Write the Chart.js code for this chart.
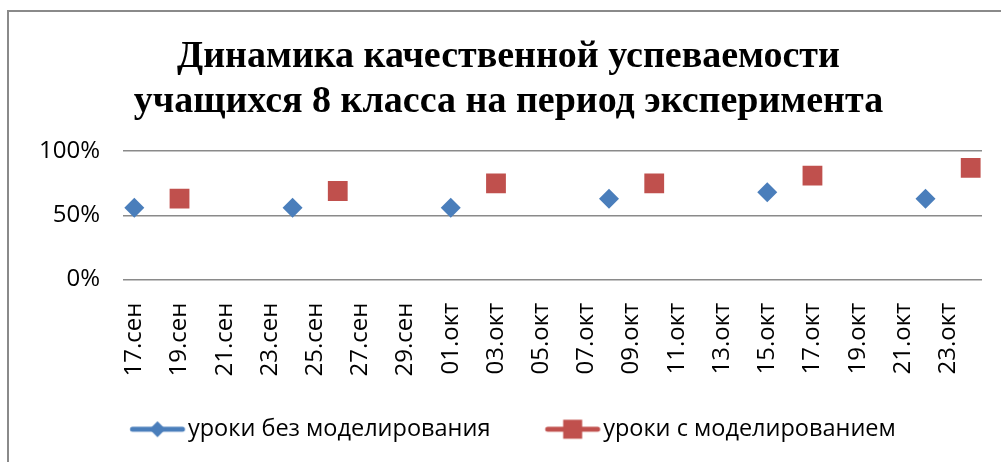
<!DOCTYPE html>
<html lang="ru">
<head>
<meta charset="UTF-8">
<title>Динамика качественной успеваемости</title>
<script src="https://cdn.jsdelivr.net/npm/chart.js"></script>
<style>
  html, body { margin: 0; padding: 0; background: #fff; overflow: hidden; }
  #box { position: relative; width: 1001px; height: 462px; }
</style>
</head>
<body>
<div id="box"><canvas id="grafico" width="1001" height="462"></canvas></div>

<script>
// дни по оси X (каждый день, подписи через один)
const dias = [
  '17.сен','18.сен','19.сен','20.сен','21.сен','22.сен','23.сен','24.сен','25.сен','26.сен',
  '27.сен','28.сен','29.сен','30.сен','01.окт','02.окт','03.окт','04.окт','05.окт','06.окт',
  '07.окт','08.окт','09.окт','10.окт','11.окт','12.окт','13.окт','14.окт','15.окт','16.окт',
  '17.окт','18.окт','19.окт','20.окт','21.окт','22.окт','23.окт','24.окт'
];

// уроки без моделирования
const datasBez = ['17.сен','24.сен','01.окт','08.окт','15.окт','22.окт'];
const valoresBez = [0.56, 0.56, 0.56, 0.63, 0.68, 0.63];

// уроки с моделированием
const datasCom = ['19.сен','26.сен','03.окт','10.окт','17.окт','24.окт'];
const valoresCom = [0.63, 0.69, 0.75, 0.75, 0.81, 0.87];

const ticksY = [0, 0.5, 1];

const azul = '#4a7ebb';
const vermelho = '#c0504d';

// desenho da legenda: linha + marcador (estilo Excel), com espaço vazio à esquerda
function iconeLegenda(cor, tipo) {
  const c = document.createElement('canvas');
  c.width = 103; c.height = 22;
  const ctx = c.getContext('2d');
  ctx.strokeStyle = cor;
  ctx.lineWidth = 5;
  ctx.lineCap = 'round';
  ctx.beginPath();
  ctx.moveTo(49.25, 11); ctx.lineTo(99.25, 11);
  ctx.stroke();
  ctx.fillStyle = cor;
  ctx.beginPath();
  if (tipo === 'diamante') {
    ctx.moveTo(74.25, 3); ctx.lineTo(82.25, 11); ctx.lineTo(74.25, 19); ctx.lineTo(66.25, 11);
  } else {
    ctx.rect(64.75, 1.5, 19, 19);
  }
  ctx.closePath();
  ctx.fill();
  return c;
}

const moldura = {
  id: 'moldura',
  afterLayout(chart) {
    // puxa a legenda um pouco para a esquerda, como no original
    chart.legend.right -= 28;
  },
  beforeDraw(chart) {
    const ctx = chart.ctx;
    ctx.save();
    ctx.fillStyle = '#fff';
    ctx.fillRect(0, 0, chart.width, chart.height);
    ctx.strokeStyle = '#8a8a8a';
    ctx.lineWidth = 2;
    ctx.strokeRect(8, 11, 1200, 600);
    ctx.restore();
  }
};

const fonteSans = "'Open Sans', 'DejaVu Sans', sans-serif";

const grafico = new Chart(document.getElementById('grafico'), {
  type: 'line',
  data: {
    labels: dias,
    datasets: [{
      label: 'уроки без моделирования',
      data: datasBez.map((d, i) => ({ x: d, y: valoresBez[i] })),
      showLine: false,
      pointStyle: 'rectRot',
      pointRadius: 10,
      pointHoverRadius: 10,
      pointBackgroundColor: azul,
      pointBorderColor: azul,
      pointBorderWidth: 0,
      borderColor: azul,
      backgroundColor: azul
    }, {
      label: 'уроки с моделированием',
      data: datasCom.map((d, i) => ({ x: d, y: valoresCom[i] })),
      showLine: false,
      pointStyle: 'rect',
      pointRadius: 14,
      pointHoverRadius: 14,
      pointBackgroundColor: vermelho,
      pointBorderColor: vermelho,
      pointBorderWidth: 0,
      borderColor: vermelho,
      backgroundColor: vermelho
    }]
  },
  options: {
    responsive: false,
    animation: false,
    events: [],
    layout: { padding: { left: 16, right: 0, top: 2, bottom: 11 } },
    plugins: {
      title: {
        display: true,
        text: ['Динамика качественной успеваемости', 'учащихся 8 класса на период эксперимента'],
        color: '#000',
        font: { family: "'Liberation Serif', 'Times New Roman', serif", size: 38, weight: 'bold', lineHeight: 1.2 },
        padding: { top: 32, bottom: 26 }
      },
      legend: {
        position: 'bottom',
        labels: {
          usePointStyle: true,
          pointStyleWidth: 83,
          padding: 18,
          color: '#000',
          font: { family: fonteSans, size: 23.5 },
          generateLabels(chart) {
            return [
              { text: 'уроки без моделирования', pointStyle: iconeLegenda(azul, 'diamante'), fontColor: '#000', datasetIndex: 0, lineWidth: 0 },
              { text: 'уроки с моделированием', pointStyle: iconeLegenda(vermelho, 'quadrado'), fontColor: '#000', datasetIndex: 1, lineWidth: 0 }
            ];
          }
        }
      },
      tooltip: { enabled: false }
    },
    scales: {
      x: {
        type: 'category',
        offset: true,
        grid: { display: false, drawTicks: false },
        border: { display: false },
        afterFit(scale) { scale.paddingRight = 19; },
        ticks: {
          autoSkip: false,
          minRotation: 90,
          maxRotation: 90,
          padding: 23,
          color: '#000',
          font: { family: fonteSans, size: 24 },
          callback: function (v, i) { return i % 2 === 0 ? this.getLabelForValue(v) : ''; }
        }
      },
      y: {
        min: 0,
        max: 1,
        afterBuildTicks(axis) { axis.ticks = ticksY.map(v => ({ value: v })); },
        grid: { color: '#8a8a8a', lineWidth: 1.5, drawTicks: false },
        border: { display: false },
        ticks: {
          padding: 23,
          color: '#000',
          font: { family: fonteSans, size: 24 },
          callback: v => Math.round(v * 100) + '%'
        }
      }
    }
  },
  plugins: [moldura]
});
</script>
</body>
</html>
